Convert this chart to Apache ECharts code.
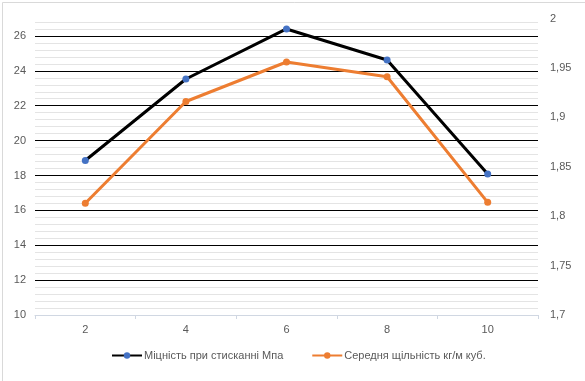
<!DOCTYPE html>
<html>
<head>
<meta charset="utf-8">
<script src="https://cdn.jsdelivr.net/npm/echarts@6/dist/echarts.min.js"></script>
<style>
html,body{margin:0;padding:0;background:#fff;}
#c{width:585px;height:381px;}
</style>
</head>
<body>
<div id="c"></div>
<script>
const categories = ['2', '4', '6', '8', '10'];
const strengthName = 'Міцність при стисканні Мпа';
const densityName = 'Середня щільність кг/м куб.';
const strengthValues = [18.86, 23.53, 26.4, 24.62, 18.08];
const densityValues = [1.813, 1.916, 1.956, 1.941, 1.814];

const chart = echarts.init(document.getElementById('c'), null, {renderer: 'canvas'});
const font = 'Liberation Sans, Arial, sans-serif';
const txt = '#595959';
function isMajor(v) { return Math.abs(v / 2 - Math.round(v / 2)) < 1e-6; }

chart.setOption({
  animation: false,
  backgroundColor: '#fff',
  graphic: [{
    type: 'rect', left: 0, top: 0, silent: true,
    shape: {x: 0.5, y: 0.5, width: 584, height: 380},
    style: {fill: 'none', stroke: '#d9d9d9', lineWidth: 1}
  }],
  grid: {left: 35, right: 47, top: 18.5, bottom: 66, containLabel: false},
  legend: {
    bottom: 15, left: 106,
    itemWidth: 30, itemHeight: 8, itemGap: 28,
    textStyle: {fontFamily: font, fontSize: 11, color: txt, padding: [0, 0, 0, -3]},
    data: [strengthName, densityName]
  },
  xAxis: {
    type: 'category', data: categories, boundaryGap: true,
    axisLine: {lineStyle: {color: '#d0d7e2', width: 1}},
    axisTick: {show: true, length: 4, lineStyle: {color: '#d0d7e2'}},
    axisLabel: {fontFamily: font, fontSize: 11, color: txt, margin: 9},
    splitLine: {show: false}
  },
  yAxis: [{
    type: 'value', min: 10, max: 27, interval: 0.4,
    axisLine: {show: false}, axisTick: {show: false},
    axisLabel: {
      fontFamily: font, fontSize: 11, color: txt, margin: 9,
      showMaxLabel: false,
      formatter: function (v) { return isMajor(v) && v < 26.9 ? String(Math.round(v)) : ''; }
    },
    splitLine: {
      show: true, showMinLine: false, showMaxLine: false,
      lineStyle: {color: ['#e4e4e4', '#e4e4e4', '#e4e4e4', '#e4e4e4', '#000000'], width: 1}
    }
  }, {
    type: 'value', min: 1.7, max: 2.0, interval: 0.05, position: 'right',
    axisLine: {show: false}, axisTick: {show: false},
    axisLabel: {
      fontFamily: font, fontSize: 11, color: txt, margin: 12,
      formatter: function (v) { return String(parseFloat(v.toFixed(2))).replace('.', ','); }
    },
    splitLine: {show: false}
  }],
  series: [{
    name: strengthName, type: 'line', yAxisIndex: 0, data: strengthValues,
    symbol: 'circle', symbolSize: 7, z: 3,
    lineStyle: {color: '#000000', width: 3},
    itemStyle: {color: '#4472c4'}
  }, {
    name: densityName, type: 'line', yAxisIndex: 1, data: densityValues,
    symbol: 'circle', symbolSize: 7, z: 2,
    lineStyle: {color: '#ed7d31', width: 3},
    itemStyle: {color: '#ed7d31'}
  }]
});
</script>
</body>
</html>
